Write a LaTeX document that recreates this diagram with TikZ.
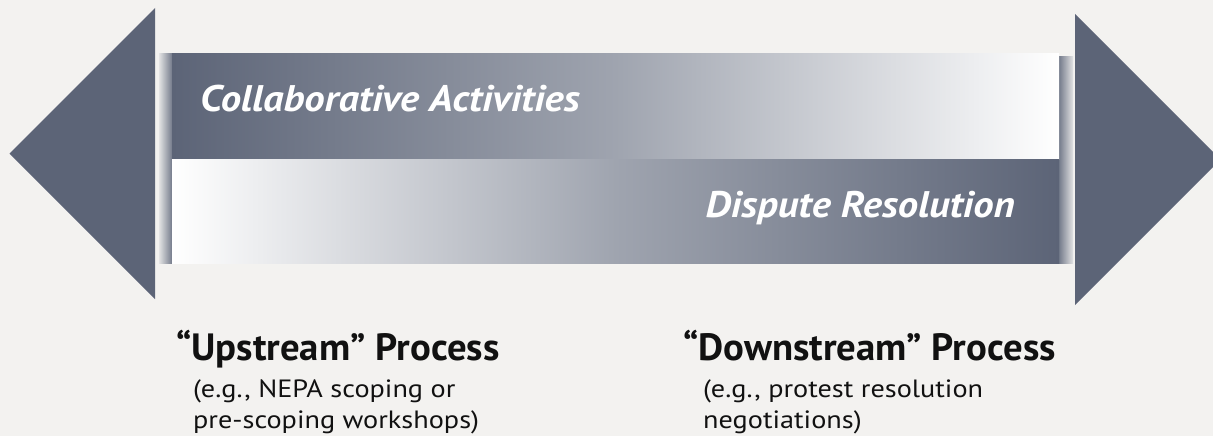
\documentclass[tikz,border=0pt]{standalone}
\usepackage{fontspec}
\setmainfont{PT Sans}
\newfontfamily\bandfont{PT Sans}[FakeStretch=1.1]
\newfontfamily\procfont{PT Sans}[FakeStretch=1.02]
\newfontfamily\notefont{PT Sans}[FakeStretch=1.13]
\definecolor{bg}{HTML}{F3F2F0}
\definecolor{slate}{HTML}{5C6477}
\definecolor{midgray}{HTML}{9FA4AF}
\definecolor{txt}{HTML}{111111}
\tikzset{
  arrowhead/.style={fill=slate, draw=none},
  bandtitle/.style={inner sep=0pt, text=white, font=\bandfont\fontsize{37}{40}\selectfont\bfseries\itshape},
  proctitle/.style={inner sep=0pt, text=txt, font=\procfont\fontsize{38}{40}\selectfont\bfseries},
  procnote/.style={inner sep=0pt, text=txt, align=left, font=\notefont\fontsize{25}{31}\selectfont},
}
\begin{document}
\begin{tikzpicture}[x=1pt,y=-1pt]
\useasboundingbox (0,0) rectangle (1213,436);
\fill[bg] (0,0) rectangle (1213,436);
% arrowheads
\fill[arrowhead] (155,8) -- (9.5,153.5) -- (155,299) -- cycle;
\begin{scope}
\clip (0,0) rectangle (1213,436);
\fill[arrowhead] (1075,14) -- (1220.5,159.5) -- (1075,305) -- cycle;
\end{scope}
% band edge strips
\shade[left color=bg!80!midgray, right color=slate!85!white] (159,54) rectangle (172,263);
\shade[left color=slate!85!white, right color=bg!80!midgray] (1059,57) rectangle (1073,263);
% panels
\shade[left color=slate, right color=white, middle color=midgray] (172,54) rectangle (1059,159);
\shade[left color=white, right color=slate, middle color=midgray] (172,159) rectangle (1059,263);
% texts
\node[bandtitle, anchor=base west] (collab) at (200,111) {Collaborative Activities};
\node[bandtitle, anchor=base east] (dispute) at (1015,217) {Dispute Resolution};
\node[proctitle, anchor=base west] (up) at (176,360) {“Upstream” Process};
\node[procnote, anchor=base west] (upnote) at (193,428) {(e.g., NEPA scoping or\\pre-scoping workshops)};
\node[proctitle, anchor=base west] (down) at (683,360) {“Downstream” Process};
\node[procnote, anchor=base west] (downnote) at (703,428) {(e.g., protest resolution\\negotiations)};
\end{tikzpicture}
\end{document}
